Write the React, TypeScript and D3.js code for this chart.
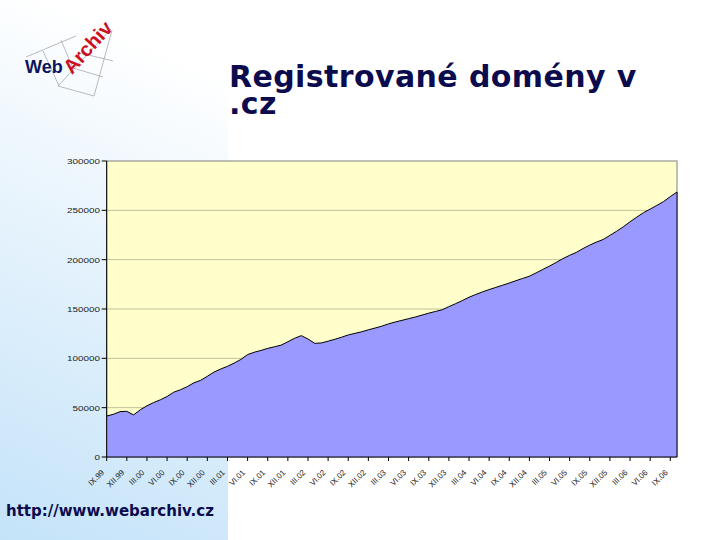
import React from "react";
import * as d3 from "d3";

// Monthly registered .cz domains, IX.1999 – X.2006
const domainCounts: number[] = [
  41500, 43300, 46000, 46300, 42700, 47800, 51900, 55200, 58000, 61300,
  65700, 68200, 71300, 75200, 77700, 81800, 86100, 89200, 91900, 95200,
  98900, 103800, 106200, 108000, 110100, 111700, 113400, 116800, 120300, 123000,
  119600, 115200, 115600, 117400, 119300, 121400, 123700, 125300, 126900, 128900,
  130700, 132600, 134900, 136800, 138500, 140200, 141900, 143800, 145800, 147500,
  149200, 152400, 155400, 158500, 161900, 164700, 167300, 169700, 171900, 174100,
  176300, 178700, 181000, 183200, 186600, 190100, 193500, 197200, 201100, 204400,
  207400, 211300, 214800, 217800, 220500, 224600, 228800, 233300, 238400, 243100,
  247600, 251300, 255000, 258900, 263900, 268600,
];

const tickLabels: string[] = [
  "IX.99", "XII.99", "III.00", "VI.00", "IX.00", "XII.00", "III.01", "VI.01",
  "IX.01", "XII.01", "III.02", "VI.02", "IX.02", "XII.02", "III.03", "VI.03",
  "IX.03", "XII.03", "III.04", "VI.04", "IX.04", "XII.04", "III.05", "VI.05",
  "IX.05", "XII.05", "III.06", "VI.06", "IX.06",
];

const yTicks: number[] = [0, 50000, 100000, 150000, 200000, 250000, 300000];

const titleLine1 = "Registrované domény v";
const titleLine2 = ".cz";
const urlText = "http://www.webarchiv.cz";

export default function App() {
  const W = 720;
  const H = 540;
  const left = 106.7;
  const right = 677;
  const top = 161;
  const bottom = 457;

  const x = d3.scaleLinear().domain([0, domainCounts.length - 1]).range([left, right]);
  const y = d3.scaleLinear().domain([0, 300000]).range([bottom, top]);

  const areaGen = d3
    .area<number>()
    .x((_, i) => x(i))
    .y0(y(0))
    .y1((d) => y(d));
  const lineGen = d3
    .line<number>()
    .x((_, i) => x(i))
    .y((d) => y(d));

  const labelFont = "'Liberation Sans', Arial, sans-serif";
  const boldFont = "'DejaVu Sans', Verdana, sans-serif";

  return (
    <svg
      width={W}
      height={H}
      style={{ position: "absolute", left: 0, top: 0, background: "#ffffff" }}
    >
      <defs>
        <linearGradient id="panelGrad" gradientUnits="userSpaceOnUse" x1="210" y1="70" x2="0" y2="540">
          <stop offset="0" stopColor="#ffffff" />
          <stop offset="0.45" stopColor="#e4f2fc" />
          <stop offset="1" stopColor="#c4e3f9" />
        </linearGradient>
      </defs>
      <rect x={0} y={0} width={W} height={H} fill="#ffffff" />
      <rect x={0} y={0} width={228} height={H} fill="url(#panelGrad)" />

      {/* Logo */}
      <g stroke="#a8a8b0" strokeWidth={0.8} fill="none">
        <line x1={26} y1={57} x2={76} y2={36} />
        <line x1={43} y1={51} x2={59} y2={86} />
        <line x1={58} y1={86} x2={94} y2={96} />
        <line x1={94} y1={96} x2={112} y2={30} />
        <line x1={80} y1={53} x2={113} y2={61} />
        <line x1={73} y1={68} x2={103} y2={77} />
        <line x1={61} y1={40} x2={72} y2={66} />
        <line x1={58} y1={86} x2={111} y2={29} />
      </g>
      <text x={25} y={73} fontFamily={labelFont} fontWeight="bold" fontSize={18} fill="#0c1560">
        Web
      </text>
      <text
        transform="translate(72,75) rotate(-48)"
        fontFamily={labelFont}
        fontWeight="bold"
        fontSize={20}
        fill="#cc1022"
      >
        Archiv
      </text>

      {/* Title */}
      <text x={229} y={87} fontFamily={boldFont} fontWeight="bold" fontSize={30} letterSpacing={0.4} fill="#0b0b4e">
        {titleLine1}
      </text>
      <text x={229} y={114} fontFamily={boldFont} fontWeight="bold" fontSize={30} letterSpacing={0.4} fill="#0b0b4e">
        {titleLine2}
      </text>

      {/* Plot area */}
      <rect x={left} y={top} width={right - left} height={bottom - top} fill="#ffffcc" stroke="#808080" strokeWidth={1} />
      {yTicks.slice(1, -1).map((t) => (
        <line key={t} x1={left} x2={right} y1={y(t)} y2={y(t)} stroke="#c3c09a" strokeWidth={1} />
      ))}

      <path d={areaGen(domainCounts) || ""} fill="#9999ff" stroke="none" />
      <path d={lineGen(domainCounts) || ""} fill="none" stroke="#000000" strokeWidth={1} />
      <line x1={right} x2={right} y1={y(domainCounts[domainCounts.length - 1])} y2={bottom} stroke="#000" strokeWidth={1} />

      {/* Y axis */}
      <line x1={left} x2={left} y1={top} y2={bottom} stroke="#000" strokeWidth={1} />
      {yTicks.map((t) => {
        const s = String(t);
        return (
          <g key={t}>
            <line x1={left - 5} x2={left} y1={y(t)} y2={y(t)} stroke="#000" strokeWidth={1} />
            <text
              x={100}
              y={y(t) + 3}
              textAnchor="end"
              fontFamily={labelFont}
              fontSize={7.5}
              textLength={s.length * 5.5}
              lengthAdjust="spacingAndGlyphs"
              fill="#222"
            >
              {s}
            </text>
          </g>
        );
      })}

      {/* X axis */}
      <line x1={left} x2={right} y1={bottom} y2={bottom} stroke="#000" strokeWidth={1} />
      {tickLabels.map((lab, i) => {
        const tx = x(i * 3);
        return (
          <g key={lab}>
            <line x1={tx} x2={tx} y1={bottom} y2={bottom + 4} stroke="#000" strokeWidth={1} />
            <text
              transform={`translate(${tx - 2},${bottom + 16}) rotate(-45)`}
              textAnchor="end"
              fontFamily={labelFont}
              fontSize={8}
              fill="#222"
            >
              {lab}
            </text>
          </g>
        );
      })}

      {/* URL */}
      <text x={6} y={516} fontFamily={boldFont} fontWeight="bold" fontSize={15} fill="#0b0b4e">
        {urlText}
      </text>
    </svg>
  );
}
